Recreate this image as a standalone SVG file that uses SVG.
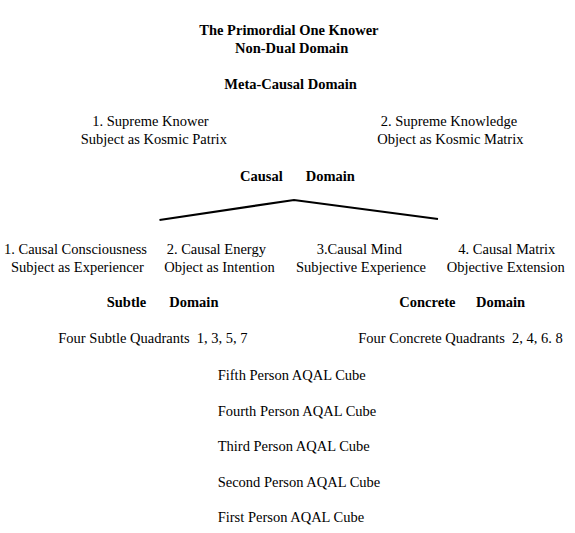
<svg xmlns="http://www.w3.org/2000/svg" width="575" height="533" viewBox="0 0 575 533">
<style>
text{font-family:"Liberation Serif","Times New Roman",serif;font-size:14.5px;fill:#000}
.b{font-weight:bold}
.conn{fill:none;stroke:#000;stroke-width:2.2;stroke-linejoin:miter}
</style>
<rect width="575" height="533" fill="#fff"/>
<g id="connectors">
<polyline class="conn" points="159.5,220 294,200 438,219"/>
</g>
<g id="primordial">
<text class="b" x="199.3" y="35">The Primordial One Knower</text>
<text class="b" x="235" y="53">Non-Dual Domain</text>
</g>
<g id="meta-causal">
<text class="b" x="224.3" y="89">Meta-Causal Domain</text>
</g>
<g id="supreme-knower">
<text x="92.3" y="126">1. Supreme Knower</text>
<text x="80.7" y="143.5">Subject as Kosmic Patrix</text>
</g>
<g id="supreme-knowledge">
<text x="380.7" y="126">2. Supreme Knowledge</text>
<text x="377.3" y="143.5">Object as Kosmic Matrix</text>
</g>
<g id="causal-domain">
<text class="b" y="181"><tspan x="240">Causal</tspan><tspan x="305.7">Domain</tspan></text>
</g>
<g id="causal-consciousness">
<text x="4" y="254">1. Causal Consciousness</text>
<text x="11" y="272">Subject as Experiencer</text>
</g>
<g id="causal-energy">
<text x="166.7" y="254">2. Causal Energy</text>
<text x="164.3" y="272">Object as Intention</text>
</g>
<g id="causal-mind">
<text x="316.7" y="254">3.Causal Mind</text>
<text x="296" y="272">Subjective Experience</text>
</g>
<g id="causal-matrix">
<text x="458.3" y="254">4. Causal Matrix</text>
<text x="446.7" y="272">Objective Extension</text>
</g>
<g id="subtle-domain">
<text class="b" y="307"><tspan x="106.7">Subtle</tspan><tspan x="169.3">Domain</tspan></text>
<text x="58.3" y="343" xml:space="preserve">Four Subtle Quadrants  1, 3, 5, 7</text>
</g>
<g id="concrete-domain">
<text class="b" y="307"><tspan x="399.3">Concrete</tspan><tspan x="476">Domain</tspan></text>
<text x="358.3" y="343" xml:space="preserve">Four Concrete Quadrants  2, 4, 6. 8</text>
</g>
<g id="cubes">
<text x="217.7" y="380">Fifth Person AQAL Cube</text>
<text x="217.7" y="415.5">Fourth Person AQAL Cube</text>
<text x="217.7" y="451">Third Person AQAL Cube</text>
<text x="217.7" y="486.5">Second Person AQAL Cube</text>
<text x="217.7" y="522">First Person AQAL Cube</text>
</g>
</svg>
